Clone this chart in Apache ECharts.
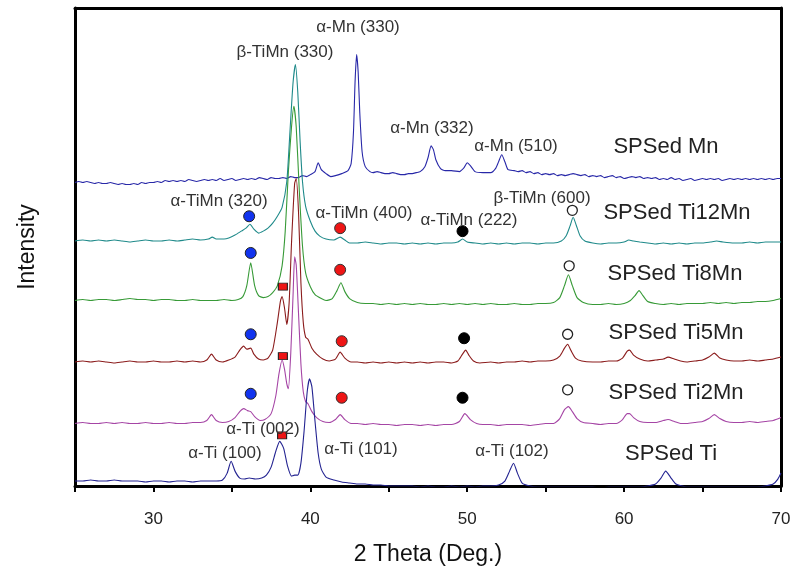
<!DOCTYPE html>
<html>
<head>
<meta charset="utf-8">
<script src="https://cdn.jsdelivr.net/npm/echarts@6/dist/echarts.min.js"></script>
<style>
html, body { margin: 0; padding: 0; background: #ffffff; }
#chart { width: 794px; height: 571px; }
</style>
</head>
<body>
<div id="chart"></div>
<script>
// XRD patterns of the SPSed samples, intensity relative to each pattern's own baseline (a.u.)
const sampleNames = ['SPSed Mn', 'SPSed Ti12Mn', 'SPSed Ti8Mn', 'SPSed Ti5Mn', 'SPSed Ti2Mn', 'SPSed Ti'];
const stackOffsets = [307, 247, 187, 125, 63, 5];
const lineColors = ['#2828a8', '#1f8a8a', '#379a37', '#8b1c1c', '#a545a5', '#232391'];

const xrdMn = [
  [25,-1],[25.25,0],[25.5,-1],[25.75,0],[26,-1],[26.25,-2],[26.5,-1],[26.75,-2],[27,-2],[27.25,-1],[27.5,-2],
  [27.75,-3],[28,-2],[28.25,-3],[28.5,-3],[28.75,-2],[29,-3],[29.25,-1],[29.5,-2],[29.75,-1],[30,-1],[30.25,0],
  [30.5,-1],[30.75,1],[31,0],[31.25,1],[31.5,0],[31.75,1],[32,0],[32.25,2],[32.5,1],[32.75,0],[33,1],[33.25,2],
  [33.5,1],[33.75,2],[34,1],[34.25,3],[34.5,1],[34.75,2],[35,3],[35.25,1],[35.5,2],[35.75,3],[36,2],[36.25,3],
  [36.5,2],[36.75,4],[37,3],[37.25,2],[37.5,4],[37.75,3],[38,3],[38.25,4],[38.5,3],[38.75,5],[39,4],[39.25,4],
  [39.5,6],[39.75,5],[40,7],[40.3,10],[40.5,19],[40.7,12],[41,8],[41.3,5],[41.6,6],
  [42,8],[42.4,11],[42.6,18],[42.75,50],[42.85,100],[42.95,128],[43.05,110],[43.15,70],[43.3,30],[43.5,15],
  [43.8,10],[44,9],[44.25,10],[44.5,9],[44.75,8],[45,8],[45.25,9],[45.5,8],[45.75,7],[46,7],[46.25,8],[46.5,8],
  [46.75,9],[47,10],[47.3,15],[47.5,24],[47.7,36],[47.85,32],
  [48,22],[48.3,13],[48.6,11],[49,11],[49.5,10],[49.8,14],[50,19],[50.2,16],[50.5,10],[51,9],[51.5,9],
  [51.8,13],[52,20],[52.2,27],[52.4,20],[52.6,12],
  [53,11],[53.25,10],[53.5,11],[53.75,9],[54,10],[54.25,8],[54.5,9],[54.75,7],[55,8],[55.25,7],[55.5,8],
  [55.75,6],[56,7],[56.25,6],[56.5,7],[56.75,8],[57,7],[57.25,6],[57.5,7],[57.75,5],[58,6],[58.25,5],[58.5,6],
  [58.75,4],[59,5],[59.25,6],[59.5,4],[59.75,5],[60,3],[60.25,4],[60.5,5],[60.75,4],[61,5],[61.25,3],[61.5,4],
  [61.75,3],[62,4],[62.25,2],[62.5,3],[62.75,2],[63,4],[63.25,2],[63.5,3],[63.75,1],[64,2],[64.25,3],[64.5,1],
  [64.75,2],[65,3],[65.25,2],[65.5,3],[65.75,2],[66,3],[66.25,1],[66.5,2],[66.75,3],[67,2],[67.25,3],[67.5,2],
  [67.75,3],[68,2],[68.25,3],[68.5,2],[68.75,3],[69,2],[69.25,3],[69.5,2],[69.75,3],[70,3]
];

const xrdTi12Mn = [
  [25,0],[25.5,1],[26,0],[26.5,1],[27,0],[27.5,1],[28,0],[28.5,-1],[29,0],[29.5,1],[30,0],[30.5,0],[31,1],
  [31.5,0],[32,1],[32.5,2],[33,1],[33.5,2],[33.75,4],[34,2],[34.5,2],[34.8,3],[35.2,6],[35.6,10],[35.9,13],
  [36.15,17],[36.4,12],[36.7,8],[37,10],[37.3,13],[37.6,18],[37.9,25],[38.2,34],[38.5,60],[38.7,110],
  [38.9,160],[39.05,178],[39.2,150],[39.35,100],[39.5,60],[39.7,35],[40,20],[40.3,10],[40.6,5],[41,2],
  [41.5,1],[41.9,4],[42.2,1],[42.5,-2],[43,-2],[43.5,-1],[44,-2],[44.5,-3],[45,-2],[45.5,-2],[46,-3],
  [46.5,-2],[47,-3],[47.5,-2],[48,-3],[48.5,-2],[49,-2],[49.4,-1],[49.7,2],[50,-1],[50.5,-2],[51,-3],
  [51.5,-2],[52,-3],[52.5,-2],[53,-3],[53.5,-2],[54,-2],[54.5,-3],[55,-2],[55.5,-2],[56,0],[56.3,5],
  [56.55,15],[56.75,24],[56.95,16],[57.2,5],[57.5,0],[58,-2],[58.5,-3],[59,-2],[59.5,-2],[60,-1],[60.3,1],
  [60.6,0],[61,-1],[61.5,-2],[62,-3],[62.5,-2],[63,-3],[63.5,-2],[64,-3],[64.5,-2],[65,-2],[65.5,-1],
  [65.9,0],[66.3,-1],[67,-2],[67.5,-2],[68,-1],[68.5,-2],[69,-1],[69.5,-1],[70,-1]
];

const xrdTi8Mn = [
  [25,0],[25.5,1],[26,0],[26.5,1],[27,1],[27.5,0],[28,1],[28.5,2],[29,1],[29.5,1],[30,0],[30.5,1],[31,1],
  [31.5,0],[32,0],[32.5,1],[33,0],[33.5,0],[34,0],[34.5,1],[35,0],[35.4,1],[35.7,4],[35.95,15],[36.2,38],
  [36.45,15],[36.7,5],[37,3],[37.3,4],[37.6,8],[37.9,15],[38.2,35],[38.4,70],[38.6,130],[38.8,175],
  [38.95,196],[39.1,175],[39.3,110],[39.5,55],[39.7,28],[40,14],[40.3,6],[40.7,2],[41,0],[41.4,2],[41.7,10],
  [41.95,18],[42.2,9],[42.5,2],[43,-2],[43.5,-3],[44,-3],[44.5,-4],[45,-3],[45.5,-4],[46,-3],[46.5,-4],
  [47,-3],[47.5,-4],[48,-4],[48.5,-3],[49,-4],[49.5,-3],[50,-4],[50.5,-3],[51,-4],[51.5,-3],[52,-4],
  [52.5,-4],[53,-3],[53.5,-4],[54,-4],[54.5,-3],[55,-3],[55.5,-2],[55.9,3],[56.2,15],[56.45,26],[56.7,15],
  [57,3],[57.4,-2],[58,-4],[58.5,-4],[59,-3],[59.5,-4],[60,-3],[60.4,0],[60.7,5],[60.95,10],[61.2,5],
  [61.5,-1],[62,-3],[62.5,-4],[63,-3],[63.5,-4],[64,-3],[64.5,-3],[65,-3],[65.5,-2],[66,-3],[66.5,-2],
  [67,-3],[67.5,-2],[68,-2],[68.5,-1],[69,-1],[69.5,0],[70,2]
];

const xrdTi5Mn = [
  [25,0],[25.5,1],[26,0],[26.5,1],[27,0],[27.5,-1],[28,0],[28.5,1],[29,0],[29.5,0],[30,1],[30.5,0],[31,0],
  [31.5,1],[32,0],[32.5,1],[33,0],[33.4,2],[33.7,8],[34,2],[34.4,0],[34.8,2],[35.2,5],[35.5,12],[35.75,16],
  [35.95,13],[36.2,14],[36.4,8],[36.7,3],[37,2],[37.3,4],[37.6,12],[37.9,40],[38.1,62],[38.2,66],[38.35,55],
  [38.5,38],[38.65,60],[38.8,120],[39,180],[39.1,185],[39.25,150],[39.4,80],[39.55,40],[39.7,25],
  [39.85,23],[40.1,14],[40.4,8],[40.8,3],[41.2,1],[41.6,3],[41.9,10],[42.2,4],[42.6,0],[43,0],[43.5,-1],
  [44,0],[44.5,-1],[45,0],[45.5,-1],[46,0],[46.5,-1],[47,0],[47.5,-1],[48,0],[48.5,0],[49,-1],[49.4,1],
  [49.7,8],[49.9,12],[50.1,7],[50.4,1],[50.8,-1],[51.5,0],[52,-1],[52.5,0],[53,0],[53.5,1],[54,0],[54.5,1],
  [55,1],[55.5,2],[55.9,6],[56.2,14],[56.4,18],[56.6,12],[56.9,4],[57.3,1],[58,0],[58.5,0],[59,1],[59.5,1],
  [59.9,4],[60.2,11],[60.35,12],[60.6,7],[61,3],[61.5,1],[62,2],[62.5,3],[62.8,5],[63.2,3],[63.6,1],[64,0],
  [64.5,1],[65,2],[65.4,5],[65.75,9],[66.1,4],[66.5,2],[67,1],[67.5,1],[68,2],[68.5,1],[69,2],[69.5,3],[70,5]
];

const xrdTi2Mn = [
  [25,0],[25.5,1],[26,0],[26.5,0],[27,1],[27.5,0],[28,1],[28.5,0],[29,0],[29.5,1],[30,0],[30.5,0],[31,1],
  [31.5,0],[32,0],[32.5,1],[33,1],[33.4,3],[33.7,9],[34,3],[34.4,1],[34.8,2],[35.2,6],[35.5,12],[35.75,15],
  [36,13],[36.2,12],[36.45,7],[36.8,3],[37.1,4],[37.5,10],[37.8,28],[38,50],[38.2,64],[38.35,55],[38.5,40],
  [38.6,35],[38.75,70],[38.9,130],[39,168],[39.1,160],[39.25,110],[39.4,60],[39.55,32],[39.7,22],[39.85,20],
  [40.1,12],[40.4,6],[40.8,2],[41.2,1],[41.6,4],[41.9,9],[42.2,4],[42.6,0],[43,0],[43.5,-1],[44,0],[44.5,-1],
  [45,-1],[45.5,-2],[46,-1],[46.5,-1],[47,-2],[47.5,-1],[48,-2],[48.5,-1],[49,-1],[49.5,2],[49.85,10],
  [50.2,4],[50.6,0],[51,-1],[51.5,-1],[52,-2],[52.5,-1],[53,-1],[53.5,-1],[54,-2],[54.5,-1],[55,0],[55.5,0],
  [55.9,5],[56.2,14],[56.45,17],[56.7,12],[57,5],[57.4,1],[58,0],[58.5,-1],[59,0],[59.5,0],[59.9,4],[60.2,10],
  [60.35,10],[60.6,6],[61,2],[61.5,1],[62,1],[62.5,3],[62.8,4],[63.2,2],[63.6,0],[64,0],[64.5,1],[65,2],
  [65.4,5],[65.75,9],[66.1,5],[66.5,2],[67,1],[67.5,1],[68,2],[68.5,1],[69,2],[69.5,3],[70,6]
];

const xrdTi = [
  [25,0],[25.5,0],[26,1],[26.5,0],[27,0],[27.5,1],[28,0],[28.5,0],[29,0],[29.5,-1],[30,0],[30.5,0],[31,-1],
  [31.5,0],[32,0],[32.5,-1],[33,0],[33.5,0],[34,0],[34.4,1],[34.7,8],[34.95,20],[35.2,10],[35.5,3],[35.8,2],
  [36.1,3],[36.5,2],[36.9,3],[37.2,6],[37.5,14],[37.8,30],[38.05,40],[38.3,33],[38.55,15],[38.8,5],[39,6],
  [39.2,6],[39.4,18],[39.6,50],[39.8,90],[39.95,103],[40.1,95],[40.3,60],[40.5,28],[40.7,12],[41,4],[41.5,1],
  [42,-1],[42.5,-2],[43,-3],[43.5,-3],[44,-4],[44.5,-4],[45,-5],[45.5,-5],[46,-5],[46.5,-5],[47,-6],[47.5,-5],
  [48,-6],[48.5,-6],[49,-5],[49.5,-6],[50,-5],[50.5,-6],[51,-5],[51.5,-5],[52,-4],[52.4,0],[52.7,10],[52.95,18],
  [53.2,8],[53.5,-2],[54,-5],[54.5,-6],[55,-6],[55.5,-6],[56,-6],[56.5,-6],[57,-6],[57.5,-6],[58,-6],[58.5,-7],
  [59,-6],[59.5,-6],[60,-6],[60.5,-6],[61,-6],[61.5,-5],[62,-3],[62.35,3],[62.65,10],[62.95,4],[63.3,-3],
  [63.7,-5],[64,-6],[64.5,-6],[65,-6],[65.5,-6],[66,-6],[66.5,-6],[67,-6],[67.5,-6],[68,-6],[68.5,-6],[69,-5],
  [69.5,-3],[69.8,2],[70,8]
];

const patterns = [xrdMn, xrdTi12Mn, xrdTi8Mn, xrdTi5Mn, xrdTi2Mn, xrdTi];

// Phase markers, placed in stacked-chart coordinates [2θ, intensity]
const markTiMn320 = [[36.1, 272], [36.2, 235], [36.2, 153], [36.2, 93]];     // blue: α-TiMn (320)
const markTiMn400 = [[41.9, 260], [41.9, 218], [42.0, 146], [42.0, 89]];     // red: α-TiMn (400)
const markTiMn222 = [[49.7, 257], [49.8, 149], [49.7, 89]];                  // black: α-TiMn (222)
const markTiMn600 = [[56.7, 278], [56.5, 222], [56.4, 153], [56.4, 97]];     // open: β-TiMn (600)
const markTi002   = [[38.25, 201], [38.25, 131], [38.2, 51]];                // red square: α-Ti (002)

// Peak and sample labels [text, 2θ, intensity, size]
const peakLabels = [
  ['α-Mn (330)', 43.04, 463, 17],
  ['β-TiMn (330)', 38.38, 437, 17],
  ['α-Mn (332)', 47.75, 361, 17],
  ['α-Mn (510)', 53.11, 343, 17],
  ['α-TiMn (320)', 34.18, 287, 17],
  ['α-TiMn (400)', 43.42, 275, 17],
  ['α-TiMn (222)', 50.11, 268, 17],
  ['β-TiMn (600)', 54.77, 290, 17],
  ['α-Ti (002)', 36.98, 57, 17],
  ['α-Ti (100)', 34.56, 33, 17],
  ['α-Ti (101)', 43.23, 37, 17],
  ['α-Ti (102)', 52.85, 35, 17]
];
const sampleLabelPos = [[62.67, 342], [63.37, 275], [63.24, 214], [63.31, 154], [63.31, 94], [62.99, 32]];

const chart = echarts.init(document.getElementById('chart'), null, { renderer: 'canvas' });
const FONT = '"Liberation Sans", Arial, sans-serif';

const lineSeries = patterns.map((pts, i) => ({
  name: sampleNames[i],
  type: 'line',
  data: pts.map(p => [p[0], p[1] + stackOffsets[i]]),
  showSymbol: false,
  smooth: 0.2,
  lineStyle: { color: lineColors[i], width: 1.1 },
  z: 2 + (i === 1 ? 1 : 0),
  silent: true
}));

function markerSeries(data, opts) {
  return Object.assign({
    type: 'scatter', data: data, z: 5, silent: true,
    symbol: 'circle', symbolSize: 11
  }, opts);
}

const option = {
  animation: false,
  backgroundColor: '#ffffff',
  grid: { left: 75, right: 13, top: 8, bottom: 81 },
  xAxis: [{
    type: 'value', min: 25, max: 70, interval: 5,
    name: '2 Theta (Deg.)', nameLocation: 'middle', nameGap: 57,
    nameTextStyle: { fontFamily: FONT, fontSize: 23, color: '#111' },
    axisLine: { lineStyle: { color: '#000', width: 3 } },
    axisTick: { show: true, inside: false, length: 6, lineStyle: { color: '#000', width: 2 } },
    axisLabel: {
      fontFamily: FONT, fontSize: 17, color: '#222', margin: 25,
      formatter: v => (v % 10 === 0 ? String(v) : '')
    },
    splitLine: { show: false }
  }, {
    type: 'value', min: 25, max: 70, position: 'top',
    axisLine: { onZero: false, lineStyle: { color: '#000', width: 3 } },
    axisTick: { show: false }, axisLabel: { show: false }, splitLine: { show: false }
  }],
  yAxis: [{
    type: 'value', min: 0, max: 482,
    name: 'Intensity', nameLocation: 'middle', nameGap: 36, nameRotate: 90,
    nameTextStyle: { fontFamily: FONT, fontSize: 23, color: '#111' },
    axisLine: { onZero: false, lineStyle: { color: '#000', width: 3 } },
    axisTick: { show: false }, axisLabel: { show: false }, splitLine: { show: false }
  }, {
    type: 'value', min: 0, max: 482, position: 'right',
    axisLine: { onZero: false, lineStyle: { color: '#000', width: 3 } },
    axisTick: { show: false }, axisLabel: { show: false }, splitLine: { show: false }
  }],
  series: lineSeries.concat([
    markerSeries(markTiMn320, { itemStyle: { color: '#1133ee', borderColor: '#222', borderWidth: 1, opacity: 1 } }),
    markerSeries(markTiMn400, { itemStyle: { color: '#ee1515', borderColor: '#333', borderWidth: 1, opacity: 1 } }),
    markerSeries(markTiMn222, { itemStyle: { color: '#000000', borderColor: '#000', borderWidth: 1, opacity: 1 } }),
    markerSeries(markTiMn600, { symbolSize: 10, itemStyle: { color: '#ffffff', borderColor: '#222', borderWidth: 1.3, opacity: 1 } }),
    markerSeries(markTi002, { symbol: 'rect', symbolSize: [9, 7], itemStyle: { color: '#ee1515', borderColor: '#222', borderWidth: 1, opacity: 1 } })
  ])
};

chart.setOption(option);

// Text annotations positioned through the chart's own coordinate system
const texts = [];
peakLabels.forEach(l => {
  const p = chart.convertToPixel({ gridIndex: 0 }, [l[1], l[2]]);
  texts.push({
    type: 'text', x: p[0], y: p[1], z: 10, silent: true,
    style: { text: l[0], font: l[3] + 'px ' + FONT, fill: '#333', align: 'center', verticalAlign: 'middle' }
  });
});
sampleLabelPos.forEach((pos, i) => {
  const p = chart.convertToPixel({ gridIndex: 0 }, pos);
  texts.push({
    type: 'text', x: p[0], y: p[1], z: 10, silent: true,
    style: { text: sampleNames[i], font: '22px ' + FONT, fill: '#222', align: 'center', verticalAlign: 'middle' }
  });
});
chart.setOption({ graphic: texts });
</script>
</body>
</html>
